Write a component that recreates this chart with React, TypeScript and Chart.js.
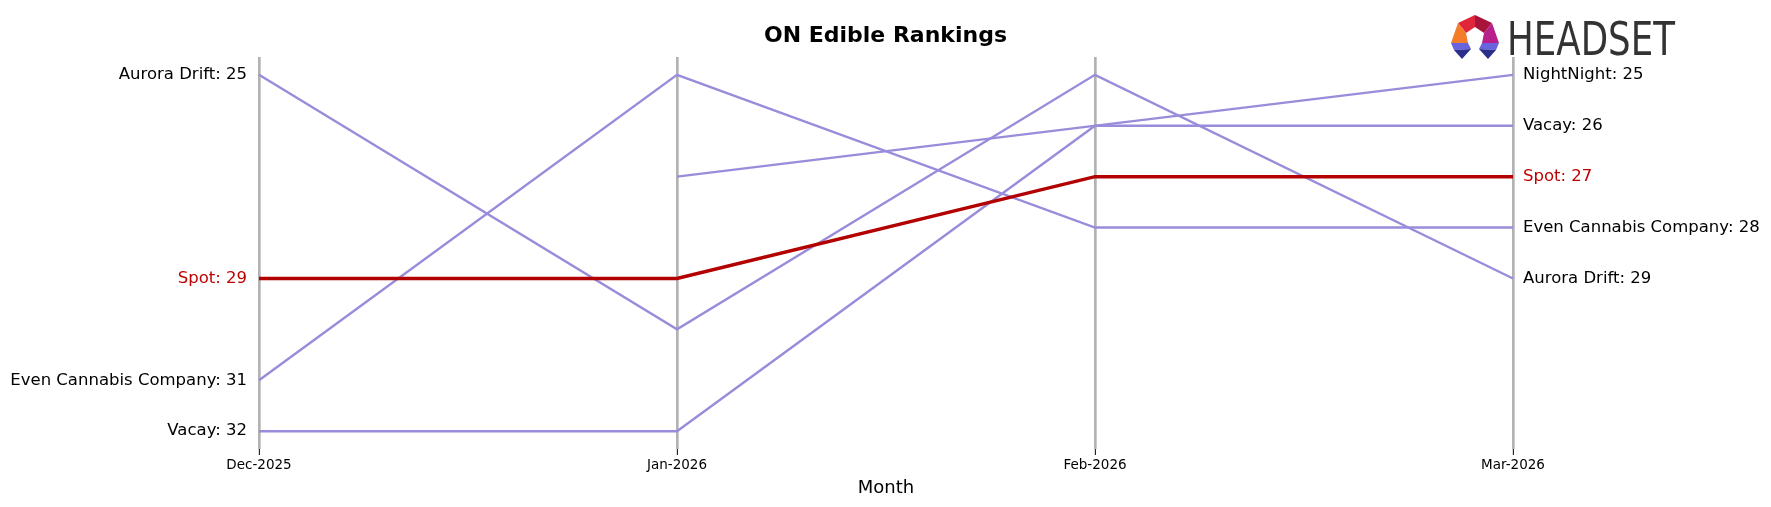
import React, { useEffect, useRef } from "react";
import { Chart, registerables } from "chart.js";

Chart.register(...registerables);

const months: string[] = ["Dec-2025", "Jan-2026", "Feb-2026", "Mar-2026"];
const brandNames: string[] = ["Spot", "Aurora Drift", "Even Cannabis Company", "Vacay", "NightNight"];
const spotRanks: (number | null)[] = [29, 29, 27, 27];
const auroraDriftRanks: (number | null)[] = [25, 30, 25, 29];
const evenCannabisRanks: (number | null)[] = [31, 25, 28, 28];
const vacayRanks: (number | null)[] = [32, 32, 26, 26];
const nightNightRanks: (number | null)[] = [null, 27, null, 25];
const highlightBrand = "Spot";
const titleText = "ON Edible Rankings";
const xAxisTitle = "Month";

const W = 1771;
const H = 507;
const FONT = "'DejaVu Sans', sans-serif";
const PURPLE = "#9a8cdb";
const RED = "#b30000";
const RED_TEXT = "#c00000";

const labelPlugin = {
  id: "rankLabels",
  afterDatasetsDraw(chart: any) {
    const ctx = chart.ctx;
    ctx.save();
    ctx.font = `16.5px ${FONT}`;
    ctx.textBaseline = "middle";
    chart.data.datasets.forEach((ds: any, i: number) => {
      const meta = chart.getDatasetMeta(i);
      const color = ds.label === highlightBrand ? RED_TEXT : "#000";
      ctx.fillStyle = color;
      const first = ds.data[0];
      if (first !== null && first !== undefined) {
        const p = meta.data[0];
        ctx.textAlign = "right";
        ctx.fillText(`${ds.label}: ${first}`, p.x - 12, p.y);
      }
      const li = ds.data.length - 1;
      const last = ds.data[li];
      if (last !== null && last !== undefined) {
        const p = meta.data[li];
        ctx.textAlign = "left";
        ctx.fillText(`${ds.label}: ${last}`, p.x + 10, p.y);
      }
    });
    ctx.restore();
  },
  afterDraw(chart: any) {
    const ctx = chart.ctx;
    ctx.save();
    // title
    ctx.font = `bold 22px ${FONT}`;
    ctx.fillStyle = "#000";
    ctx.textAlign = "center";
    ctx.textBaseline = "middle";
    ctx.fillText(titleText, W / 2, 36);

    // logo icon
    const poly = (pts: number[][], fill: string) => {
      ctx.beginPath();
      ctx.moveTo(pts[0][0], pts[0][1]);
      for (let k = 1; k < pts.length; k++) ctx.lineTo(pts[k][0], pts[k][1]);
      ctx.closePath();
      ctx.fillStyle = fill;
      ctx.fill();
    };
    const T = [1475, 15], UL = [1458, 23], UR = [1492, 23];
    const IT = [1475, 27], IUL = [1466, 33], IUR = [1484, 33];
    const L = [1451, 43], IL = [1468, 43], R = [1499, 43], IR = [1482, 43];
    const LB = [1454, 50], ILB = [1471, 49], RB = [1496, 50], IRB = [1479, 49];
    const LF = [1462, 59], RF = [1488, 59];
    poly([T, UL, IUL, IT], "#e0263a");
    poly([T, UR, IUR, IT], "#a8143c");
    poly([UL, L, IL, IUL], "#f37d2a");
    poly([UR, R, IR, IUR], "#b81f8c");
    poly([L, IL, ILB, LB], "#6a63e0");
    poly([LB, ILB, LF], "#2b2f8c");
    poly([R, IR, IRB, RB], "#6a63e0");
    poly([RB, IRB, RF], "#2b2f8c");

    // HEADSET text
    ctx.font = `46px ${FONT}`;
    ctx.fillStyle = "#333333";
    ctx.textAlign = "left";
    ctx.textBaseline = "alphabetic";
    const tw = ctx.measureText("HEADSET").width;
    ctx.translate(1507, 55);
    ctx.scale(168 / tw, 1);
    ctx.fillText("HEADSET", 0, 0);
    ctx.restore();
  },
};

export default function App() {
  const ref = useRef<HTMLCanvasElement | null>(null);
  useEffect(() => {
    if (!ref.current) return;
    const series: Record<string, (number | null)[]> = {
      "Spot": spotRanks,
      "Aurora Drift": auroraDriftRanks,
      "Even Cannabis Company": evenCannabisRanks,
      "Vacay": vacayRanks,
      "NightNight": nightNightRanks,
    };
    const datasets = brandNames.map((name) => ({
      label: name,
      data: series[name],
      borderColor: name === highlightBrand ? RED : PURPLE,
      backgroundColor: name === highlightBrand ? RED : PURPLE,
      borderWidth: name === highlightBrand ? 3.5 : 2.4,
      pointRadius: 0,
      spanGaps: true,
      tension: 0,
      fill: false,
    }));
    const chart = new Chart(ref.current, {
      type: "line",
      data: { labels: months, datasets },
      options: {
        animation: false,
        responsive: false,
        devicePixelRatio: 1,
        layout: { padding: { left: 259, right: 258, top: 57, bottom: 0 } },
        plugins: {
          legend: { display: false },
          tooltip: { enabled: false },
          title: { display: false },
        },
        scales: {
          x: {
            type: "category",
            offset: false,
            border: { display: false },
            grid: {
              color: "#b3b3b3",
              lineWidth: 2.7,
              drawTicks: true,
              tickLength: 6,
              tickColor: "#000",
              tickWidth: 1,
            },
            ticks: {
              color: "#000",
              font: { family: FONT, size: 13.5 },
              padding: 2,
              maxRotation: 0,
              autoSkip: false,
            },
            title: {
              display: true,
              text: xAxisTitle,
              color: "#000",
              font: { family: FONT, size: 18 },
              padding: { top: 0, bottom: 8 },
            },
            afterFit: (s: any) => {
              s.height = 58;
            },
          },
          y: {
            display: false,
            min: 24.65,
            max: 32.35,
            reverse: true,
          },
        },
      },
      plugins: [labelPlugin],
    } as any);
    return () => chart.destroy();
  }, []);
  return (
    <div style={{ position: "absolute", left: 0, top: 0, width: W, height: H, background: "#fff" }}>
      <canvas ref={ref} width={W} height={H} style={{ display: "block" }} />
    </div>
  );
}
